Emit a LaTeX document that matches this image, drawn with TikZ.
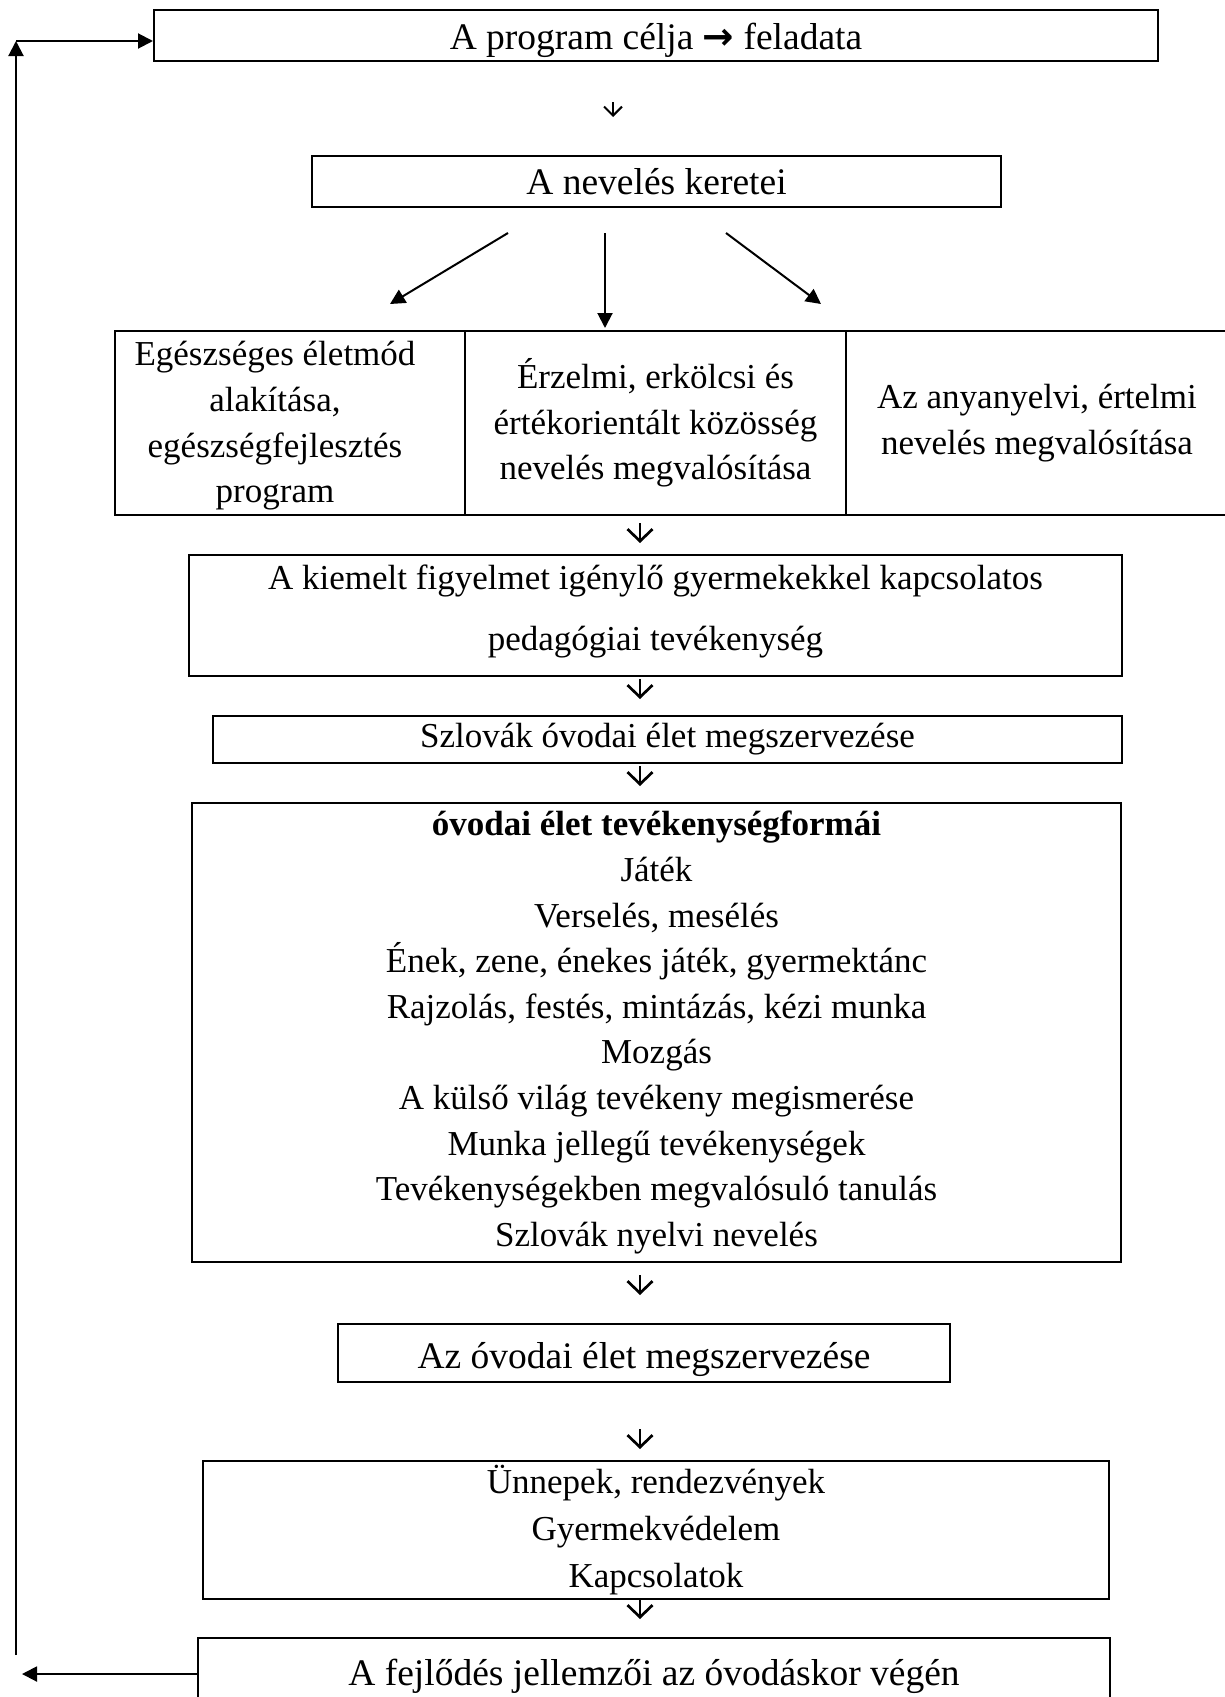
\documentclass[tikz,border=0pt]{standalone}
\usepackage{fontspec}
\setmainfont{Liberation Serif}
\newfontfamily\arrowfont{DejaVu Sans}
\usetikzlibrary{arrows.meta}
\newcommand{\shiftv}[2]{\raisebox{#1}[\height][\depth]{#2}}
\begin{document}
\begin{tikzpicture}[x=1pt,y=-1pt,
  box/.style={draw, line width=2pt, inner sep=0pt, align=center,
    font=\fontsize{35}{45.6}\selectfont},
  big/.style={font=\fontsize{37.5}{45.6}\selectfont},
  plain/.style={inner sep=0pt, align=center, font=\fontsize{35}{45.6}\selectfont},
  conn/.style={line width=2pt, -{Triangle[length=15pt,width=15pt]}},
  down/.style={line width=2.7pt, -{Straight Barb[length=12pt,width=25pt]}},
  smalldown/.style={line width=2pt, -{Straight Barb[length=9pt,width=18pt]}},
]
\useasboundingbox (0,0) rectangle (1224,1697);

\node[box, big, minimum width=1004pt, minimum height=51pt] (top) at (656,35.5)
  {\shiftv{-5pt}{A program célja {\arrowfont\bfseries →} feladata}};
\node[box, big, minimum width=689pt, minimum height=51pt] (keretei) at (656.5,181.5)
  {A nevelés keretei};

\node[box, minimum width=350pt, minimum height=184pt] (col1) at (290,423) {};
\node[plain] (col1text) at (275,426)
  {Egészséges életmód\\alakítása,\\egészségfejlesztés\\program};
\node[box, minimum width=381pt, minimum height=184pt] (col2) at (655.5,423)
  {Érzelmi, erkölcsi és\\értékorientált közösség\\nevelés megvalósítása};
\node[box, minimum width=382pt, minimum height=184pt] (col3) at (1037,423)
  {Az anyanyelvi, értelmi\\nevelés megvalósítása};

\node[box, minimum width=933pt, minimum height=121pt,
  font=\fontsize{35}{61}\selectfont] (kiemelt) at (655.5,615.5)
  {\shiftv{4pt}{A kiemelt figyelmet igénylő gyermekekkel kapcsolatos}\\\shiftv{4pt}{pedagógiai tevékenység}};
\node[box, minimum width=909pt, minimum height=47pt] (szlovak) at (667.5,739.5)
  {Szlovák óvodai élet megszervezése};
\node[box, minimum width=929pt, minimum height=459pt] (tev) at (656.5,1032.5)
  {\textbf{óvodai élet tevékenységformái}\\Játék\\Verselés, mesélés\\Ének, zene, énekes játék, gyermektánc\\Rajzolás, festés, mintázás, kézi munka\\Mozgás\\A külső világ tevékeny megismerése\\Munka jellegű tevékenységek\\Tevékenységekben megvalósuló tanulás\\Szlovák nyelvi nevelés};
\node[box, big, minimum width=612pt, minimum height=58pt] (ovodai) at (644,1353)
  {\shiftv{-6pt}{Az óvodai élet megszervezése}};
\node[box, minimum width=906pt, minimum height=138pt,
  font=\fontsize{35}{47}\selectfont] (unnep) at (656,1530)
  {Ünnepek, rendezvények\\Gyermekvédelem\\Kapcsolatok};
\node[box, big, minimum width=912pt, minimum height=68pt] (bottom) at (654,1672)
  {\shiftv{-4pt}{A fejlődés jellemzői az óvodáskor végén}};

% small glyph-like down arrows
\coordinate (a0s) at (613,102); \coordinate (a0e) at (613,117);
\draw[smalldown] (a0s) -- (a0e);
\foreach \n/\y in {a1/533, a2/689, a3/776, a4/1285, a5/1439, a6/1609}{
  \coordinate (\n s) at (640,\y-10);
  \coordinate (\n e) at (640,\y+10);
  \draw[down] (\n s) -- (\n e);
}

% three branch arrows
\coordinate (bl) at (508,233); \coordinate (blE) at (390,304);
\coordinate (bc) at (605,233); \coordinate (bcE) at (605,328);
\coordinate (br) at (726,233); \coordinate (brE) at (821,304);
\draw[conn] (bl) -- (blE);
\draw[conn] (bc) -- (bcE);
\draw[conn] (br) -- (brE);

% feedback loop
\coordinate (fbB) at (16,1655);
\coordinate (fbT) at (16,41);
\coordinate (fbE) at (22,1674);
\draw[conn] (fbB) -- (fbT);
\draw[conn] (fbT) -- (fbT -| top.west);
\draw[conn] (bottom.west |- fbE) -- (fbE);
\end{tikzpicture}
\end{document}
